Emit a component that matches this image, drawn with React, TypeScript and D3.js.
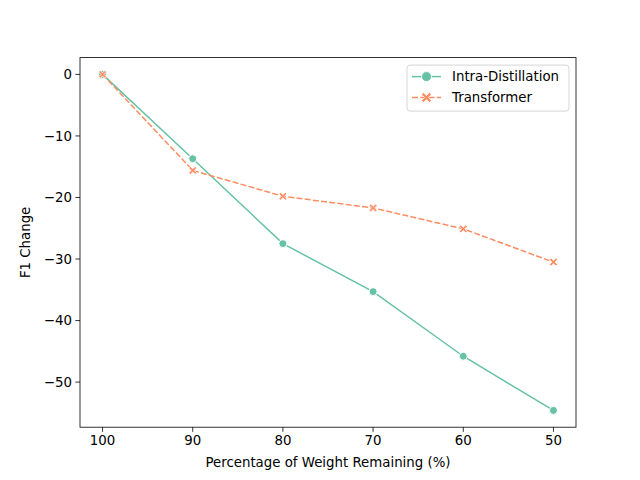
import React from 'react';
import * as d3 from 'd3';

const weights = [100, 90, 80, 70, 60, 50];
const intraDistillation = [0, -13.7, -27.5, -35.3, -45.8, -54.6];
const transformer = [0, -15.6, -19.8, -21.7, -25.1, -30.5];
const xTicks = [100, 90, 80, 70, 60, 50];
const yTicks = [0, -10, -20, -30, -40, -50];

const GREEN = '#66c2a5';
const ORANGE = '#fc8d62';
const FONT = 'DejaVu Sans, sans-serif';

// filled "X" like matplotlib's marker
const xMarker = (s: number) => {
  const a = s / 2;
  const t = s * 0.2;
  return `M${-a},${-a + t}L${-t},0L${-a},${a - t}L${-a + t},${a}L0,${t}L${a - t},${a}L${a},${a - t}L${t},0L${a},${-a + t}L${a - t},${-a}L0,${-t}L${-a + t},${-a}Z`;
};

const App: React.FC = () => {
  const width = 640;
  const height = 480;
  const margin = { top: 57.6, right: 64, bottom: 52.8, left: 80 };
  const innerW = width - margin.left - margin.right;
  const innerH = height - margin.top - margin.bottom;

  const xPad = (100 - 50) * 0.05;
  const x = d3.scaleLinear().domain([100 + xPad, 50 - xPad]).range([0, innerW]);
  const yMin = d3.min(intraDistillation)!;
  const yMax = 0;
  const yPad = (yMax - yMin) * 0.05;
  const y = d3.scaleLinear().domain([yMin - yPad, yMax + yPad]).range([innerH, 0]);

  const line = d3
    .line<number>()
    .x((_, i) => x(weights[i]))
    .y((d) => y(d));

  return (
    <svg width={width} height={height} style={{ display: 'block', position: 'absolute', left: 0, top: 0 }}>
      <rect width={width} height={height} fill="white" />
      <g transform={`translate(${margin.left},${margin.top})`} fontFamily={FONT}>
        <path d={line(intraDistillation)!} fill="none" stroke={GREEN} strokeWidth={1.5} />
        <path d={line(transformer)!} fill="none" stroke={ORANGE} strokeWidth={1.5} strokeDasharray="6,2.25" />
        {intraDistillation.map((d, i) => (
          <circle key={'a' + i} cx={x(weights[i])} cy={y(d)} r={4} fill={GREEN} stroke="white" strokeWidth={1} />
        ))}
        {transformer.map((d, i) => (
          <path key={'b' + i} d={xMarker(8)} transform={`translate(${x(weights[i])},${y(d)})`} fill={ORANGE} stroke="white" strokeWidth={0.8} />
        ))}

        <rect x={0} y={0} width={innerW} height={innerH} fill="none" stroke="black" strokeWidth={0.8} />

        {xTicks.map((t) => (
          <g key={'x' + t} transform={`translate(${x(t)},${innerH})`}>
            <line y2={4.67} stroke="black" strokeWidth={0.8} />
            <text y={18} textAnchor="middle" fontSize={13.33} fill="black">{t}</text>
          </g>
        ))}
        {yTicks.map((t) => (
          <g key={'y' + t} transform={`translate(0,${y(t)})`}>
            <line x2={-4.67} stroke="black" strokeWidth={0.8} />
            <text x={-8} dy="0.35em" textAnchor="end" fontSize={13.33} fill="black">{t === 0 ? '0' : '\u2212' + Math.abs(t)}</text>
          </g>
        ))}

        <text x={innerW / 2} y={innerH + 40} textAnchor="middle" fontSize={13.33} fill="black">Percentage of Weight Remaining (%)</text>
        <text transform={`translate(${-50},${innerH / 2}) rotate(-90)`} textAnchor="middle" fontSize={13.33} fill="black">F1 Change</text>

        <g transform={`translate(${innerW - 169},7.5)`}>
          <rect x={0} y={0} width={162} height={46} rx={3} fill="white" fillOpacity={0.8} stroke="#cccccc" strokeWidth={0.8} />
          <line x1={5} x2={34} y1={11.5} y2={11.5} stroke={GREEN} strokeWidth={1.5} />
          <circle cx={19.5} cy={11.5} r={5} fill={GREEN} stroke="white" strokeWidth={1} />
          <text x={45} y={11.5} dy="0.35em" fontSize={13.33} fill="black">Intra-Distillation</text>
          <line x1={5} x2={34} y1={32.5} y2={32.5} stroke={ORANGE} strokeWidth={1.5} strokeDasharray="6,2.25" />
          <path d={xMarker(10)} transform="translate(19.5,32.5)" fill={ORANGE} stroke="white" strokeWidth={0.8} />
          <text x={45} y={32.5} dy="0.35em" fontSize={13.33} fill="black">Transformer</text>
        </g>
      </g>
    </svg>
  );
};

export default App;
